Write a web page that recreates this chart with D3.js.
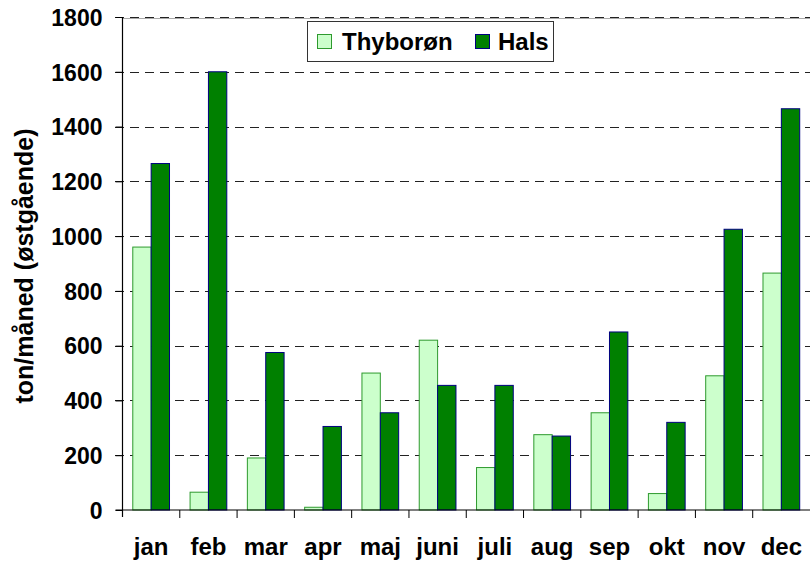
<!DOCTYPE html>
<html><head><meta charset="utf-8">
<script src="https://cdn.jsdelivr.net/npm/d3@7"></script>
<style>
html,body{margin:0;padding:0;background:#fff;}
text{font-family:"Liberation Sans",Arial,sans-serif;font-weight:bold;fill:#000;}
</style></head>
<body><svg id="c" width="810" height="564"></svg>
<script>
const months = ["jan","feb","mar","apr","maj","juni","juli","aug","sep","okt","nov","dec"];
const seriesNames = ["Thyborøn","Hals"];
const thyboron = [960,65,190,10,500,620,155,275,355,60,490,865];
const hals = [1265,1600,575,305,355,455,455,270,650,320,1025,1465];
const yTicks = [0,200,400,600,800,1000,1200,1400,1600,1800];
const yLabel = "ton/måned (østgående)";

const fills = {"Thyborøn":"#ccffcc","Hals":"#008000"};
const strokes = {"Thyborøn":"#2e9a2e","Hals":"#000080"};

const svg = d3.select("#c");
const pLeft = 122.5, pRight = 810, pTop = 17, pBottom = 510;

const x = d3.scaleBand().domain(months).range([pLeft, pRight]).paddingInner(0).paddingOuter(0);
const x1 = d3.scaleBand().domain(seriesNames).range([0, x.bandwidth()]).paddingInner(0).paddingOuter(0.56);
const y = d3.scaleLinear().domain([0,1800]).range([pBottom, pTop]);

// gridlines
svg.append("g").selectAll("line").data(yTicks.filter(d=>d>0)).join("line")
  .attr("x1",115).attr("x2",pRight).attr("y1",d=>Math.round(y(d))+0.5).attr("y2",d=>Math.round(y(d))+0.5)
  .attr("stroke","#222").attr("stroke-width",1).attr("stroke-dasharray","9,6");
svg.append("line").attr("x1",pLeft).attr("x2",pRight).attr("y1",Math.round(y(1800))+1.5).attr("y2",Math.round(y(1800))+1.5)
  .attr("stroke","#aaa").attr("stroke-width",1);

// bars
const data = months.map((m,i)=>({m, vals:[{s:"Thyborøn",v:thyboron[i]},{s:"Hals",v:hals[i]}]}));
const g = svg.append("g");
g.selectAll("g").data(data).join("g")
  .attr("transform",d=>`translate(${x(d.m)},0)`)
  .selectAll("rect").data(d=>d.vals).join("rect")
  .attr("x",d=>x1(d.s)).attr("width",x1.bandwidth())
  .attr("y",d=>y(d.v)).attr("height",d=>y(0)-y(d.v))
  .attr("fill",d=>fills[d.s]).attr("stroke",d=>strokes[d.s]).attr("stroke-width",1);

// y axis
const yAxis = d3.axisLeft(y).tickValues(yTicks).tickSize(7).tickPadding(13).tickFormat(d3.format("d"));
const ya = svg.append("g").attr("transform",`translate(${pLeft},0)`).call(yAxis);
ya.select(".domain").remove();
ya.selectAll(".tick line").attr("stroke","#000");
ya.selectAll("text").style("font-size","23px").attr("dy","0.36em");
svg.append("line").attr("x1",pLeft).attr("x2",pLeft).attr("y1",pTop).attr("y2",pBottom+7).attr("stroke","#000").attr("stroke-width",1.2);

// x axis
svg.append("line").attr("x1",pLeft-7).attr("x2",pRight).attr("y1",pBottom).attr("y2",pBottom).attr("stroke","#000").attr("stroke-width",1.2);
svg.append("g").selectAll("line").data(months.slice(1)).join("line")
  .attr("x1",d=>x(d)).attr("x2",d=>x(d)).attr("y1",pBottom).attr("y2",pBottom+8)
  .attr("stroke","#000").attr("stroke-width",1);
svg.append("g").selectAll("text").data(months).join("text")
  .attr("x",d=>x(d)+x.bandwidth()/2).attr("y",555)
  .attr("text-anchor","middle").style("font-size","24px").text(d=>d);

// y label
svg.append("text").attr("transform",`translate(33,266) rotate(-90)`)
  .attr("text-anchor","middle").style("font-size","25px").text(yLabel);

// legend
const lg = svg.append("g");
lg.append("rect").attr("x",307.5).attr("y",21.5).attr("width",246).attr("height",40)
  .attr("fill","#fff").attr("stroke","#333").attr("stroke-width",1);
const legItems = [{s:"Thyborøn",sx:317,tx:342},{s:"Hals",sx:475,tx:498}];
legItems.forEach(it=>{
  lg.append("rect").attr("x",it.sx+0.5).attr("y",34.5).attr("width",14).attr("height",14)
    .attr("fill",fills[it.s]).attr("stroke",strokes[it.s]).attr("stroke-width",1);
  lg.append("text").attr("x",it.tx).attr("y",50).style("font-size","24px").text(it.s);
});
</script></body></html>
